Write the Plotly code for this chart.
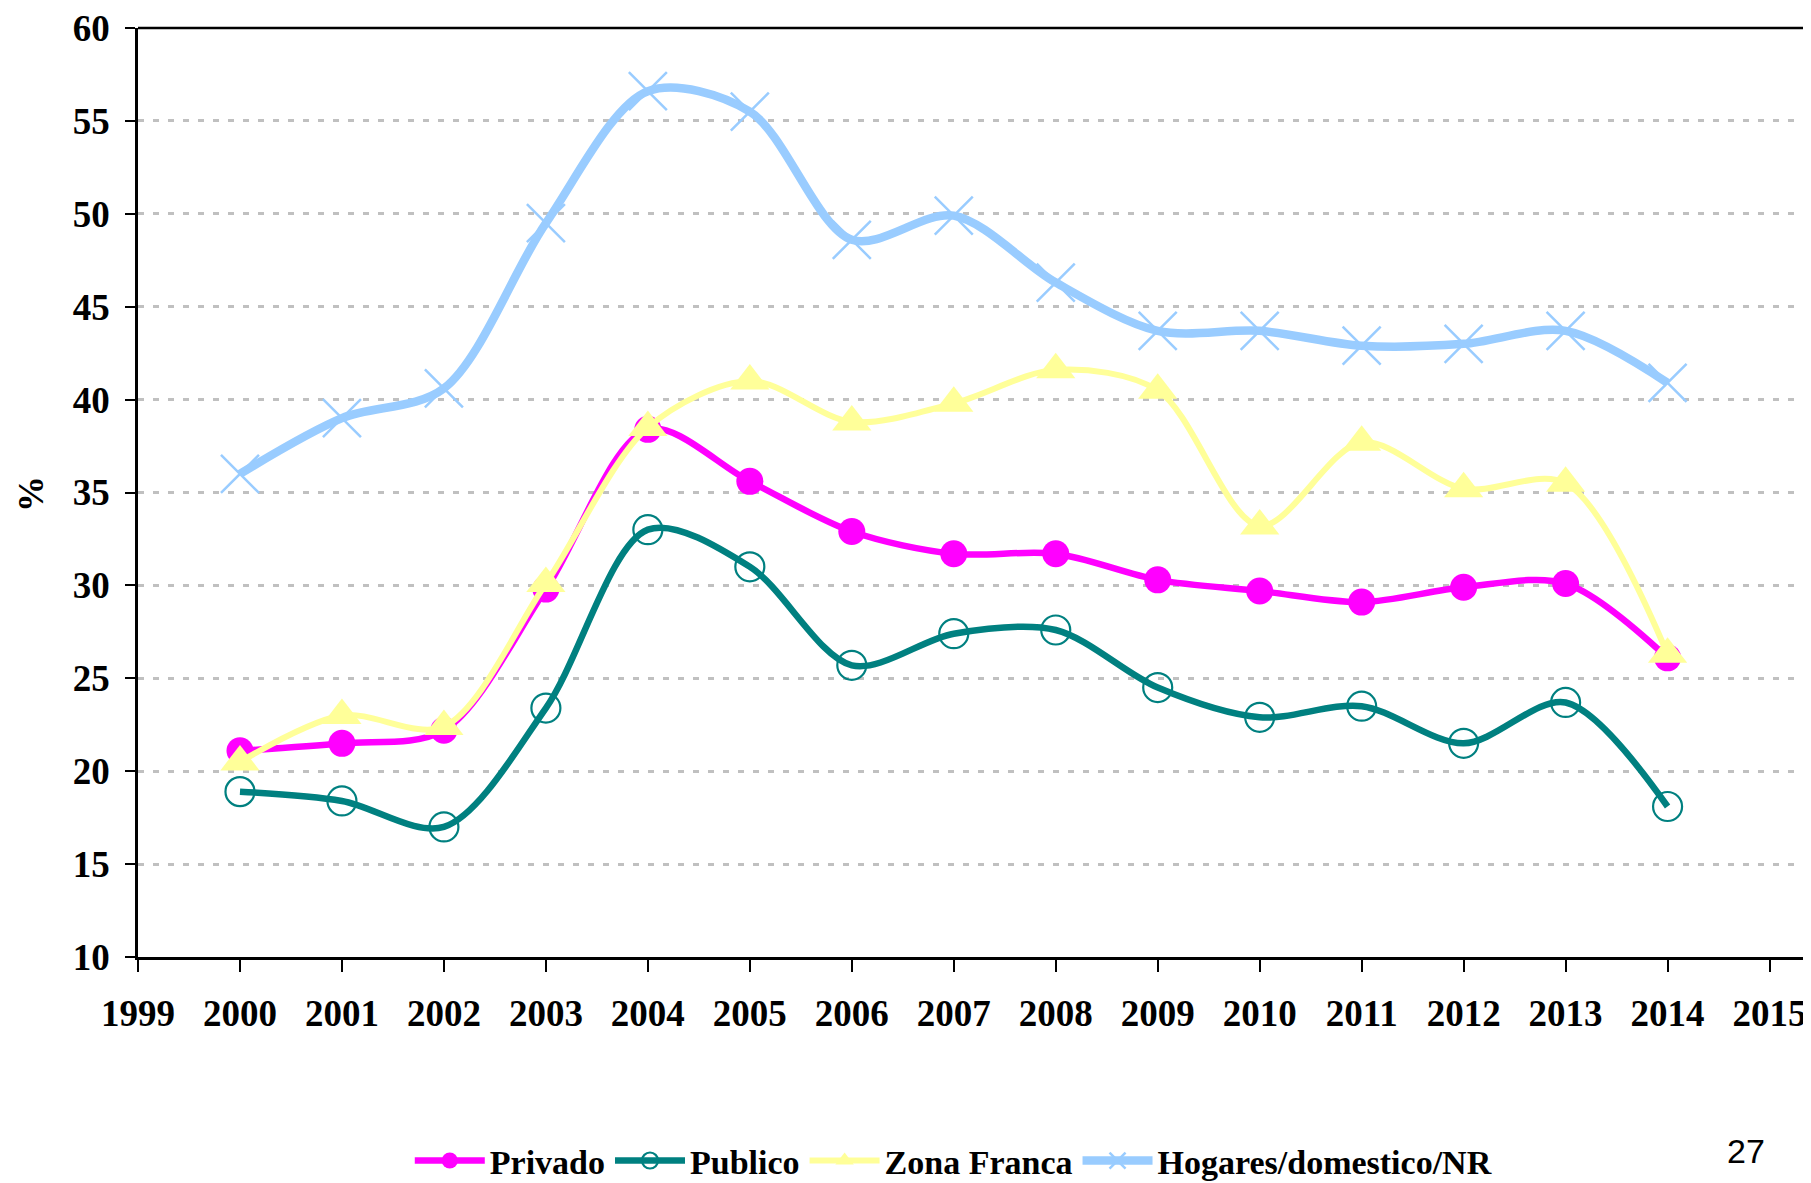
import plotly.graph_objects as go

years = list(range(2000, 2015))
privado = [21.1, 21.5, 22.2, 29.8, 38.4, 35.6, 32.9, 31.7, 31.7, 30.3, 29.7, 29.1, 29.9, 30.1, 26.1]
publico = [18.9, 18.4, 17.0, 23.4, 33.0, 31.0, 25.7, 27.4, 27.6, 24.5, 22.9, 23.5, 21.5, 23.7, 18.1]
zona_franca = [20.5, 23.0, 22.4, 30.1, 38.5, 41.0, 38.8, 39.8, 41.6, 40.5, 33.2, 37.7, 35.2, 35.5, 26.3]
hogares = [36.0, 39.0, 40.6, 49.5, 56.6, 55.5, 48.6, 49.9, 46.3, 43.7, 43.7, 42.9, 43.0, 43.7, 40.9]

x_ticks = list(range(1999, 2016))
y_ticks = list(range(10, 61, 5))

FONT = "Liberation Serif"

fig = go.Figure()
fig.add_trace(go.Scatter(x=years, y=privado, name="Privado", mode="lines+markers",
                         line=dict(color="#FF00FF", width=6.5, shape="spline", smoothing=0.9),
                         marker=dict(symbol="circle", size=27, color="#FF00FF")))
fig.add_trace(go.Scatter(x=years, y=publico, name="Publico", mode="lines+markers",
                         line=dict(color="#008080", width=6.5, shape="spline", smoothing=0.9),
                         marker=dict(symbol="circle-open", size=29, color="#008080",
                                     line=dict(width=2.2, color="#008080"))))
fig.add_trace(go.Scatter(x=years, y=zona_franca, name="Zona Franca", mode="lines+markers",
                         line=dict(color="#FFFF99", width=6, shape="spline", smoothing=0.9),
                         marker=dict(symbol="triangle-up", size=34, color="#FFFF99")))
fig.add_trace(go.Scatter(x=years, y=hogares, name="Hogares/domestico/NR", mode="lines+markers",
                         line=dict(color="#99CCFF", width=8.5, shape="spline", smoothing=0.9),
                         marker=dict(symbol="x-thin", size=38, color="#99CCFF",
                                     line=dict(width=2.5, color="#99CCFF"))))

fig.update_layout(
    width=1811, height=1183,
    margin=dict(l=129.5, r=0, t=19.7, b=234, autoexpand=False),
    paper_bgcolor="white", plot_bgcolor="white",
    font=dict(family=FONT, size=37, color="black"),
    showlegend=True,
    legend=dict(orientation="h", x=0.485, xanchor="center", y=-0.2195, yanchor="middle",
                font=dict(family=FONT, size=34, color="black", weight="bold"),
                itemwidth=70, tracegroupgap=0, bgcolor="rgba(0,0,0,0)"),
)
fig.update_xaxes(range=[1999, 2015.485], tickmode="array", tickvals=x_ticks,
                 ticktext=[str(v) for v in x_ticks], automargin=False,
                 ticklabeloverflow="allow",
                 showgrid=False, showline=True, linecolor="black", linewidth=2.5,
                 ticks="outside", ticklen=12, tickwidth=2, tickcolor="black",
                 ticklabelstandoff=10,
                 tickfont=dict(family=FONT, size=37, color="black", weight="bold"),
                 zeroline=False)
fig.update_yaxes(range=[10, 60], tickmode="array", tickvals=y_ticks,
                 ticktext=[str(v) for v in y_ticks], automargin=False,
                 ticklabeloverflow="allow",
                 showgrid=True, gridcolor="#C0C0C0", griddash="6px,9px", gridwidth=3,
                 showline=True, linecolor="black", linewidth=2.5,
                 ticks="outside", ticklen=10, tickwidth=2, tickcolor="black",
                 ticklabelstandoff=8,
                 tickfont=dict(family=FONT, size=37, color="black", weight="bold"),
                 zeroline=False)

# top border of plot area
fig.add_shape(type="line", xref="paper", yref="paper", x0=0, x1=1, y0=1, y1=1,
              line=dict(color="black", width=2.5))

fig.add_annotation(text="%", xref="paper", yref="paper", x=-0.0633, y=0.498,
                   xanchor="center", yanchor="middle", textangle=-90, showarrow=False,
                   font=dict(family=FONT, size=36, color="black", weight="bold"))
fig.add_annotation(text="27", xref="paper", yref="paper", x=0.9566, y=-0.2088,
                   xanchor="center", yanchor="middle", showarrow=False,
                   font=dict(family="Liberation Sans", size=34, color="black"))

fig.write_html("out.html")
